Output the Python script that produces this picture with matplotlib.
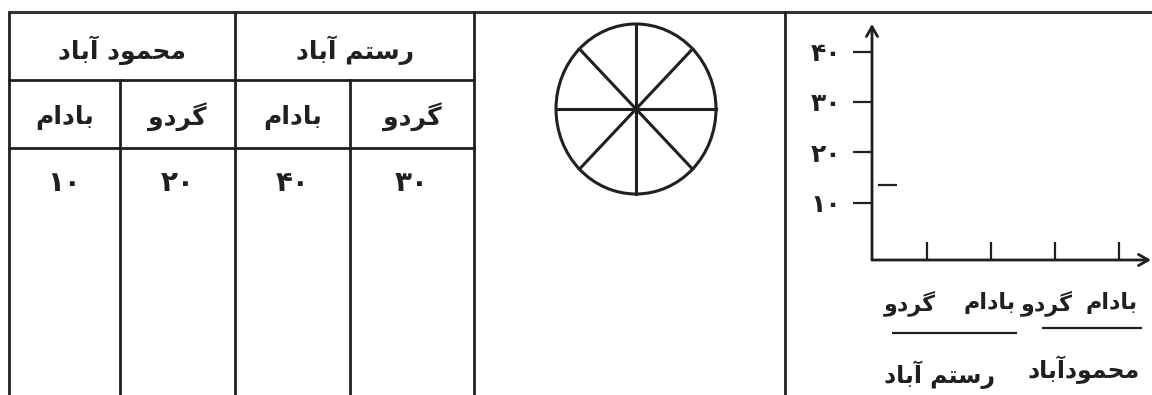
import matplotlib
matplotlib.use("Agg")
import numpy as np
import matplotlib.pyplot as plt
from matplotlib.patches import Ellipse

# data
towns = ["رستم آباد", "محمود آباد"]          # table header, right to left
crops = ["گردو", "بادام"]                    # sub-header for each town
amounts = [30, 40, 20, 10]                   # columns right to left
y_ticks = [10, 20, 30, 40]
chart_crops = ["گردو", "بادام", "گردو", "بادام"]   # x categories, left to right
chart_towns = ["رستم آباد", "محمودآباد"]
pie_parts = 8
stray_mark = 13.5

INK = "#231f20"
FONT = "DejaVu Sans"

# --- tiny Persian shaper: matplotlib has no complex text layout ---
FORMS = {
    "ا": ("\uFE8D", "\uFE8E"),
    "آ": ("\uFE81", "\uFE82"),
    "د": ("\uFEA9", "\uFEAA"),
    "ر": ("\uFEAD", "\uFEAE"),
    "و": ("\uFEED", "\uFEEE"),
    "ب": ("\uFE8F", "\uFE90", "\uFE91", "\uFE92"),
    "ت": ("\uFE95", "\uFE96", "\uFE97", "\uFE98"),
    "ح": ("\uFEA1", "\uFEA2", "\uFEA3", "\uFEA4"),
    "س": ("\uFEB1", "\uFEB2", "\uFEB3", "\uFEB4"),
    "م": ("\uFEE1", "\uFEE2", "\uFEE3", "\uFEE4"),
    "گ": ("\uFB92", "\uFB93", "\uFB94", "\uFB95"),
}


def fa(s):
    out = []
    for i, ch in enumerate(s):
        f = FORMS.get(ch)
        if f is None:
            out.append(ch)
            continue
        prev = s[i - 1] if i > 0 else ""
        nxt = s[i + 1] if i + 1 < len(s) else ""
        idx = (1 if len(FORMS.get(prev, ())) == 4 else 0) + (2 if len(f) == 4 and nxt in FORMS else 0)
        if len(f) == 2:
            idx = min(idx, 1)
        out.append(f[idx])
    return "".join(reversed(out))


def fa_num(n):
    return str(n).translate(str.maketrans("0123456789", "۰۱۲۳۴۵۶۷۸۹"))


fig = plt.figure(figsize=(11.52, 3.95), dpi=100)
ax = fig.add_axes([0, 0, 1, 1])
ax.set_xlim(0, 1152)
ax.set_ylim(395, 0)
ax.axis("off")

lw = 2.0
# frame lines
ax.plot([9, 1152], [12, 12], color="#333333", lw=2.2, solid_capstyle="butt")
col_x = [9, 120, 235, 350, 474]
for x in [9, 235, 474, 785]:
    ax.plot([x, x], [12, 395], color=INK, lw=lw)
for x in [120, 350]:
    ax.plot([x, x], [80, 395], color=INK, lw=lw)
for y in [80, 148]:
    ax.plot([9, 474], [y, y], color=INK, lw=lw)

# table text (columns run right to left)
tkw = dict(ha="center", va="center", fontsize=18, fontweight="bold", color=INK, family=FONT)
ax.text((col_x[2] + col_x[4]) / 2, 50, fa(towns[0]), **tkw)
ax.text((col_x[0] + col_x[2]) / 2, 50, fa(towns[1]), **tkw)
for j, val in enumerate(amounts):
    cx = (col_x[4 - j] + col_x[3 - j]) / 2
    ax.text(cx, 117, fa(crops[j % 2]), **tkw)
    ax.text(cx, 183, fa_num(val), **{**tkw, "fontsize": 20})

# circle split in equal parts
cx, cy, rx, ry = 636, 109, 80, 85
ax.add_patch(Ellipse((cx, cy), 2 * rx, 2 * ry, fill=False, ec=INK, lw=2.2))
for a in np.arange(pie_parts) * 2 * np.pi / pie_parts:
    ax.plot([cx, cx + rx * np.cos(a)], [cy, cy + ry * np.sin(a)], color=INK, lw=2.2)

# bar-chart axes (empty, to be filled)
W, H = 1152, 395
x0, x1, ytop, ybot = 872, 1151, 24, 260
ax2 = fig.add_axes([x0 / W, (H - ybot) / H, (x1 - x0) / W, (ybot - ytop) / H])
ax2.set_xlim(0.14, 4.5)
ax2.set_ylim(-1.4, 45.5)
ax2.patch.set_alpha(0)
for s in ax2.spines.values():
    s.set_visible(False)
akw = dict(arrowstyle="->,head_length=0.7,head_width=0.4", lw=2.0, color=INK, shrinkA=0, shrinkB=0)
ax2.annotate("", xy=(0.14, 45.5), xytext=(0.14, -1.4), arrowprops=akw, annotation_clip=False)
ax2.annotate("", xy=(4.5, -1.4), xytext=(0.14, -1.4), arrowprops=akw, annotation_clip=False)

ax2.set_yticks(y_ticks, [fa_num(v) for v in y_ticks])
ax2.tick_params(axis="y", direction="out", length=14, width=1.6, color=INK, pad=8,
                labelsize=18, labelcolor=INK)
for lab in ax2.get_yticklabels():
    lab.set_fontweight("bold")
ax2.set_xticks(np.arange(1, len(chart_crops) + 1), [])
ax2.tick_params(axis="x", direction="in", length=13, width=1.6, color=INK)
ax2.hlines(stray_mark, 0.23, 0.53, color=INK, lw=1.6, clip_on=False)

lkw = dict(ha="center", va="center", fontsize=17, fontweight="bold", color=INK, family=FONT,
           transform=ax2.transData, clip_on=False)
label_shift = [-0.27, -0.03, -0.13, -0.12]
for i, name in enumerate(chart_crops):
    ax2.text(i + 1 + label_shift[i], -10, fa(name), **{**lkw, "fontsize": 16})
ax2.hlines(-15.9, 0.45, 2.41, color=INK, lw=1.6, clip_on=False)
ax2.hlines(-14.9, 2.80, 4.36, color=INK, lw=1.6, clip_on=False)
ax2.text(1.20, -24.2, fa(chart_towns[0]), **lkw)
ax2.text(3.45, -23.2, fa(chart_towns[1]), **lkw)

fig.savefig("out.png", dpi=100)
